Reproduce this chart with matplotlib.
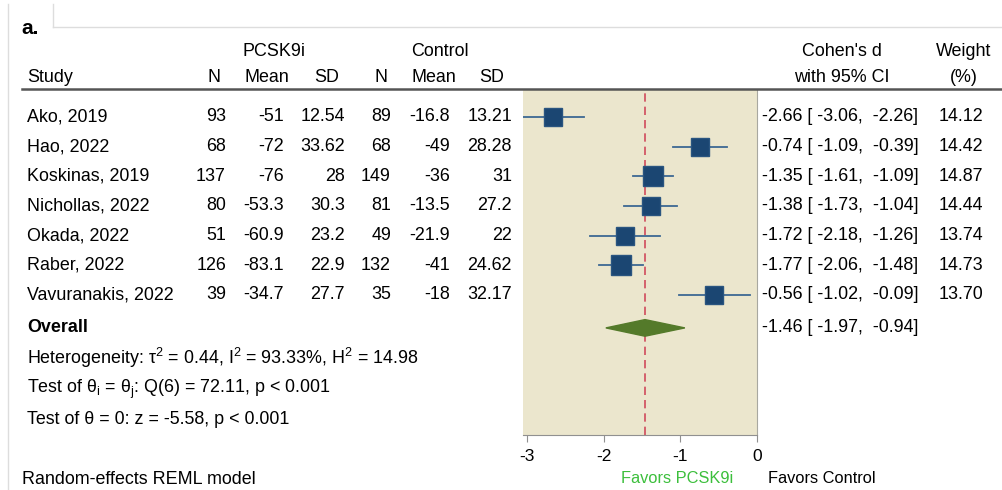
import matplotlib.pyplot as plt
import matplotlib.transforms as mtransforms
from matplotlib.lines import Line2D
from matplotlib.patches import Polygon

plt.rcParams['font.family'] = ['Liberation Sans', 'DejaVu Sans']
plt.rcParams['mathtext.fontset'] = 'custom'
plt.rcParams['mathtext.rm'] = 'Liberation Sans'
plt.rcParams['mathtext.it'] = 'Liberation Sans:italic'

# data
studies = ['Ako, 2019', 'Hao, 2022', 'Koskinas, 2019', 'Nichollas, 2022',
           'Okada, 2022', 'Raber, 2022', 'Vavuranakis, 2022']
n_pcsk = ['93', '68', '137', '80', '51', '126', '39']
mean_pcsk = ['-51', '-72', '-76', '-53.3', '-60.9', '-83.1', '-34.7']
sd_pcsk = ['12.54', '33.62', '28', '30.3', '23.2', '22.9', '27.7']
n_ctrl = ['89', '68', '149', '81', '49', '132', '35']
mean_ctrl = ['-16.8', '-49', '-36', '-13.5', '-21.9', '-41', '-18']
sd_ctrl = ['13.21', '28.28', '31', '27.2', '22', '24.62', '32.17']
d = [-2.66, -0.74, -1.35, -1.38, -1.72, -1.77, -0.56]
lo = [-3.06, -1.09, -1.61, -1.73, -2.18, -2.06, -1.02]
hi = [-2.26, -0.39, -1.09, -1.04, -1.26, -1.48, -0.09]
weight = [14.12, 14.42, 14.87, 14.44, 13.74, 14.73, 13.70]
overall = [-1.46, -1.97, -0.94]

W, H = 1003, 490
fig = plt.figure(figsize=(W / 100, H / 100), dpi=100)

def px(x):
    return x / W

def py(y):
    return 1 - y / H

# forest panel
ax = fig.add_axes([px(523), py(435), px(757) - px(523), py(90) - py(435)])
ax.set_facecolor('#ebe6cd')
ax.set_xlim(-3.05, 0)
ax.set_ylim(10.72, -0.91)
for s in ['top', 'left']:
    ax.spines[s].set_visible(False)
ax.spines['right'].set_color('#a8a8a0')
ax.spines['bottom'].set_color('#909090')
ax.set_yticks([])
ax.set_xticks([-3, -2, -1, 0])
ax.set_xticklabels(['-3', '-2', '-1', '0'], fontsize=12.5)
ax.tick_params(axis='x', length=5, color='#909090', pad=5)

navy = '#1b4672'
for i in range(len(studies)):
    ax.plot([lo[i], hi[i]], [i, i], color='#3d6893', lw=1.3, zorder=2)
    ms = 13.6 * (weight[i] / 14.3) ** 0.5
    ax.plot(d[i], i, marker='s', ms=ms, color=navy, mec='#2a5580', zorder=3)

oy = 7.11
ax.axvline(overall[0], color='#d04a5c', lw=1.2, ls=(0, (5, 3)), zorder=1)
dia = Polygon([[overall[1], oy], [overall[0], oy - 0.28], [overall[2], oy], [overall[0], oy + 0.28]],
              closed=True, color='#547a2a', zorder=4)
ax.add_patch(dia)

# text columns: x in figure, y in row units
tr = mtransforms.blended_transform_factory(fig.transFigure, ax.transData)
fs = 12.9
cols = [(n_pcsk, 226), (mean_pcsk, 284), (sd_pcsk, 345),
        (n_ctrl, 391), (mean_ctrl, 450), (sd_ctrl, 512)]
for i, name in enumerate(studies):
    fig.text(px(27), i, name, transform=tr, fontsize=fs, va='center', ha='left')
    for vals, xr in cols:
        fig.text(px(xr), i, vals[i], transform=tr, fontsize=fs, va='center', ha='right')
    ci = f'{d[i]:.2f} [ {lo[i]:.2f},  {hi[i]:.2f}]'
    fig.text(px(762), i, ci, transform=tr, fontsize=fs, va='center', ha='left')
    fig.text(px(983), i, f'{weight[i]:.2f}', transform=tr, fontsize=fs, va='center', ha='right')

fig.text(px(27), oy, 'Overall', transform=tr, fontsize=fs, va='center', ha='left', fontweight='bold')
fig.text(px(762), oy, f'{overall[0]:.2f} [ {overall[1]:.2f},  {overall[2]:.2f}]',
         transform=tr, fontsize=fs, va='center', ha='left')

# header
hy1, hy2 = py(52), py(77)
fig.text(px(274), hy1, 'PCSK9i', fontsize=fs, ha='center', va='center')
fig.text(px(440), hy1, 'Control', fontsize=fs, ha='center', va='center')
fig.text(px(842), hy1, "Cohen's d", fontsize=fs, ha='center', va='center')
fig.text(px(964), hy1, 'Weight', fontsize=fs, ha='center', va='center')
fig.text(px(27), hy2, 'Study', fontsize=fs, ha='left', va='center')
for lab, xr in [('N', 221), ('Mean', 289), ('SD', 339), ('N', 388), ('Mean', 456), ('SD', 504)]:
    fig.text(px(xr), hy2, lab, fontsize=fs, ha='right', va='center')
fig.text(px(842), hy2, 'with 95% CI', fontsize=fs, ha='center', va='center')
fig.text(px(964), hy2, '(%)', fontsize=fs, ha='center', va='center')
fig.add_artist(Line2D([px(22), 1], [py(89), py(89)], color='#555555', lw=1.8))

# stats
fig.text(px(27), py(358), r'Heterogeneity: $\mathrm{\tau}^2$ = 0.44, I$^2$ = 93.33%, H$^2$ = 14.98',
         fontsize=fs, ha='left', va='center')
fig.text(px(27), py(389), r'Test of θ$_\mathrm{i}$ = θ$_\mathrm{j}$: Q(6) = 72.11, p < 0.001',
         fontsize=fs, ha='left', va='center')
fig.text(px(27), py(419), 'Test of θ = 0: z = -5.58, p < 0.001', fontsize=fs, ha='left', va='center')
fig.text(px(22), py(479), 'Random-effects REML model', fontsize=fs, ha='left', va='center')

fig.text(px(677), py(478), 'Favors PCSK9i', fontsize=11.8, color='#3cbf3c', ha='center', va='center')
fig.text(px(822), py(478), 'Favors Control', fontsize=11.8, color='black', ha='center', va='center')

# panel label and frame lines
fig.text(px(21), py(28), 'a.', fontsize=15, fontweight='bold', ha='left', va='center')
fig.add_artist(Line2D([px(8), px(8)], [py(4), 0], color='#dddddd', lw=1))
fig.add_artist(Line2D([px(53), px(53)], [py(4), py(27)], color='#dddddd', lw=1))
fig.add_artist(Line2D([px(53), 1], [py(27), py(27)], color='#dddddd', lw=1))

fig.savefig('out.png', dpi=100)
